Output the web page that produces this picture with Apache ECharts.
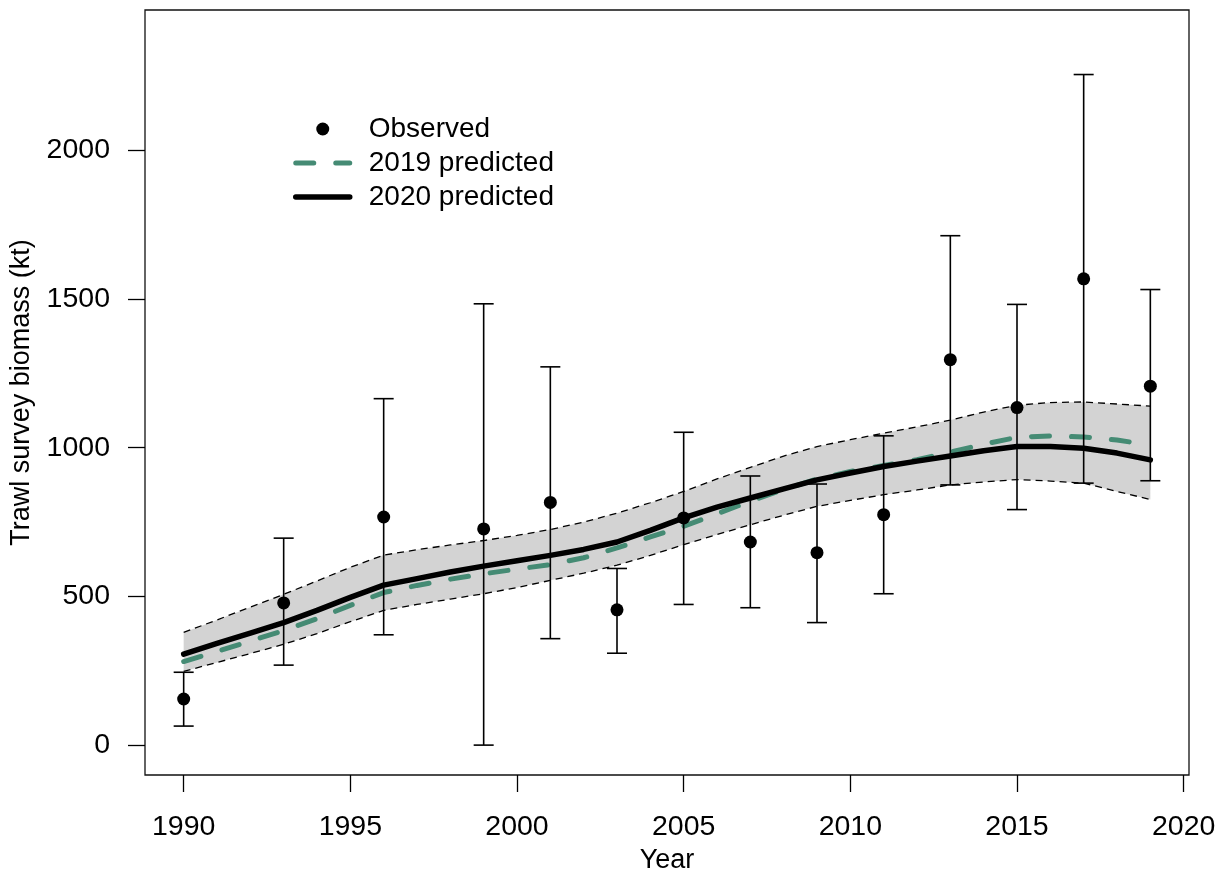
<!DOCTYPE html>
<html><head><meta charset="utf-8">
<script src="https://cdn.jsdelivr.net/npm/echarts@6/dist/echarts.min.js"></script>
<style>html,body{margin:0;padding:0;background:#fff}#c{width:1224px;height:879px}</style>
</head><body><div id="c"></div>
<script>
const years = [1990,1991,1992,1993,1994,1995,1996,1997,1998,1999,2000,2001,2002,2003,2004,2005,2006,2007,2008,2009,2010,2011,2012,2013,2014,2015,2016,2017,2018,2019];
const pred2020 = [306,342,377,412,453,497,538,560,582,602,620,638,658,683,722,764,800,831,862,892,915,937,955,972,990,1004,1004,998,982,959];
const pred2019 = [281,315,350,385,425,470,513,537,558,576,592,607,630,663,700,736,778,820,860,895,920,940,960,985,1012,1035,1040,1036,1026,1009];
const ciUpper = [379,421,464,507,552,598,639,657,673,688,705,725,750,780,815,853,895,934,972,1004,1027,1049,1070,1093,1120,1143,1152,1154,1147,1140];
const ciLower = [248,278,308,339,375,415,453,473,491,509,530,554,578,605,638,674,708,741,773,803,823,842,858,875,885,893,888,881,853,826];
const obsYears = [1990,1993,1996,1999,2001,2003,2005,2007,2009,2011,2013,2015,2017,2019];
const obsValues = [155,478,767,727,816,455,764,683,647,775,1296,1135,1568,1207];
const obsLower = [64,269,371,0,358,309,473,462,412,509,875,792,881,889];
const obsUpper = [245,696,1165,1484,1272,594,1052,905,878,1040,1713,1482,2255,1532];
const xTicks = [1990,1995,2000,2005,2010,2015,2020];
const yTicks = [0,500,1000,1500,2000];

const FONT = "'Liberation Sans', Arial, sans-serif";
const GREEN = '#458B74';
const chart = echarts.init(document.getElementById('c'), null, {renderer:'canvas'});

const pairs = (ys) => years.map((y, i) => [y, ys[i]]);

chart.setOption({
  animation: false,
  backgroundColor: '#fff',
  grid: {left: 143, top: 10, right: 35, bottom: 101, show: true, borderColor: '#111', borderWidth: 1.3, backgroundColor: 'transparent'},
  xAxis: {
    type: 'value', min: 1988.84, max: 2020.16,
    name: 'Year', nameLocation: 'middle', nameGap: 72,
    nameTextStyle: {fontSize: 27, fontFamily: FONT, color: '#000'},
    axisLine: {show: false, onZero: false},
    splitLine: {show: false},
    axisTick: {show: true, customValues: xTicks, length: 17, inside: false, lineStyle: {color: '#000', width: 1.3}},
    axisLabel: {customValues: xTicks, fontSize: 28.5, fontFamily: FONT, color: '#000', margin: 38, formatter: v => String(v)}
  },
  yAxis: {
    type: 'value', min: -100.5, max: 2472,
    name: 'Trawl survey biomass (kt)', nameLocation: 'middle', nameGap: 110, nameRotate: 90,
    nameTextStyle: {fontSize: 27, fontFamily: FONT, color: '#000'},
    axisLine: {show: false, onZero: false},
    splitLine: {show: false},
    axisTick: {show: true, customValues: yTicks, length: 17, inside: false, lineStyle: {color: '#000', width: 1.3}},
    axisLabel: {customValues: yTicks, fontSize: 28.5, fontFamily: FONT, color: '#000', margin: 35, formatter: v => String(v)}
  },
  legend: {
    orient: 'vertical', left: 288, top: 107, itemWidth: 54, itemHeight: 13, itemGap: 0,
    selectedMode: false,
    textStyle: {fontSize: 28, fontFamily: FONT, color: '#000', lineHeight: 34, padding: [0, 0, 0, 14]},
    data: [
      {name: 'Observed', icon: 'circle', itemStyle: {color: '#000', opacity: 1}},
      {name: '2019 predicted', itemStyle: {opacity: 0}, lineStyle: {color: GREEN, width: 5, type: [18, 22], cap: 'round'}},
      {name: '2020 predicted', itemStyle: {opacity: 0}, lineStyle: {color: '#000', width: 5.5, type: 'solid'}}
    ]
  },
  series: [
    {
      type: 'custom', name: 'CI band', silent: true, z: 1,
      data: [[years[0], ciLower[0]]],
      renderItem: (params, api) => {
        const pts = [];
        for (let i = 0; i < years.length; i++) pts.push(api.coord([years[i], ciUpper[i]]));
        for (let i = years.length - 1; i >= 0; i--) pts.push(api.coord([years[i], ciLower[i]]));
        return {type: 'polygon', shape: {points: pts}, style: {fill: '#d3d3d3', stroke: null}};
      }
    },
    {type: 'line', name: 'CI upper', data: pairs(ciUpper), symbol: 'none', silent: true, z: 2,
     lineStyle: {color: '#000', width: 1.3, type: [7, 5]}},
    {type: 'line', name: 'CI lower', data: pairs(ciLower), symbol: 'none', silent: true, z: 2,
     lineStyle: {color: '#000', width: 1.3, type: [7, 5]}},
    {type: 'line', name: '2019 predicted', data: pairs(pred2019), symbol: 'none', silent: true, z: 3,
     itemStyle: {color: GREEN},
     lineStyle: {color: GREEN, width: 5, type: [18, 22], cap: 'round'}},
    {type: 'line', name: '2020 predicted', data: pairs(pred2020), symbol: 'none', silent: true, z: 4,
     itemStyle: {color: '#000'},
     lineStyle: {color: '#000', width: 5.5, join: 'round', cap: 'round'}},
    {
      type: 'custom', name: 'Error bars', silent: true, z: 5,
      data: obsYears.map((y, i) => [y, obsLower[i], obsUpper[i]]),
      encode: {x: 0, y: [1, 2]},
      renderItem: (params, api) => {
        const x = api.value(0);
        const lo = api.coord([x, api.value(1)]);
        const hi = api.coord([x, api.value(2)]);
        const hw = 10;
        const st = {stroke: '#000', lineWidth: 1.6};
        return {type: 'group', children: [
          {type: 'line', shape: {x1: lo[0], y1: lo[1], x2: hi[0], y2: hi[1]}, style: st},
          {type: 'line', shape: {x1: lo[0] - hw, y1: lo[1], x2: lo[0] + hw, y2: lo[1]}, style: st},
          {type: 'line', shape: {x1: hi[0] - hw, y1: hi[1], x2: hi[0] + hw, y2: hi[1]}, style: st}
        ]};
      }
    },
    {type: 'scatter', name: 'Observed', data: obsYears.map((y, i) => [y, obsValues[i]]),
     symbol: 'circle', symbolSize: 13, itemStyle: {color: '#000', opacity: 1}, silent: true, z: 6}
  ]
});
</script>
</body></html>
